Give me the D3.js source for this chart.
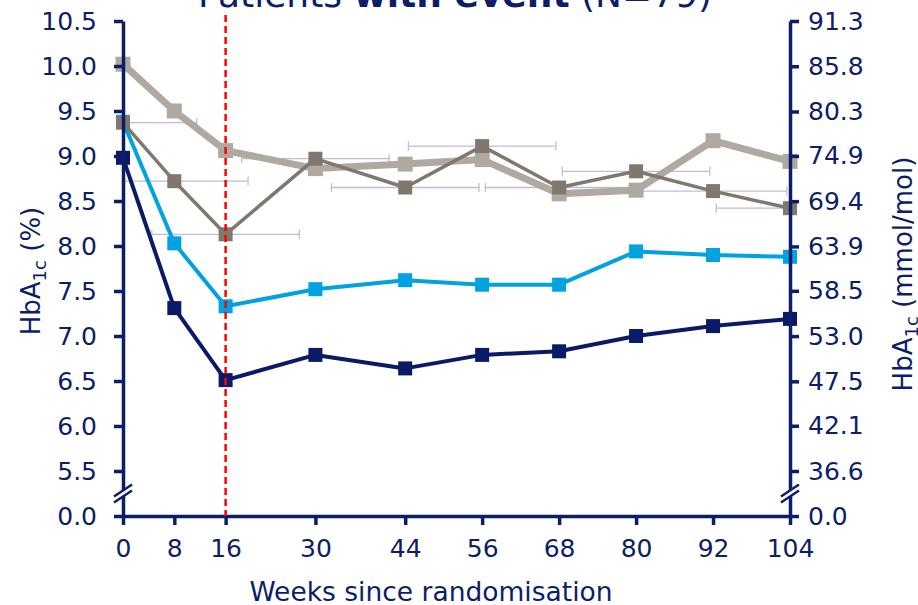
<!DOCTYPE html>
<html>
<head>
<meta charset="utf-8">
<script src="https://cdn.jsdelivr.net/npm/d3@7"></script>
<style>
  body { margin: 0; background: #fff; }
  svg text { font-family: "DejaVu Sans", Verdana, sans-serif; fill: #0c1e68; }
</style>
</head>
<body>
<div id="graph"></div>
<script>
// weeks since randomisation (x)
const weeks = [0, 8, 16, 30, 44, 56, 68, 80, 92, 104];
// HbA1c (%) per series
const navyValues      = [8.98, 7.31, 6.51, 6.79, 6.64, 6.79, 6.83, 7.00, 7.11, 7.19];
const blueValues      = [9.38, 8.03, 7.33, 7.52, 7.62, 7.57, 7.57, 7.94, 7.90, 7.88];
const darkGreyValues  = [9.37, 8.72, 8.13, 8.97, 8.65, 9.11, 8.65, 8.83, 8.61, 8.42];
const lightGreyValues = [10.02, 9.50, 9.06, 8.86, 8.91, 8.96, 8.58, 8.62, 9.17, 8.94];
// horizontal spread (weeks) drawn around the dark grey points
const darkGreyWeekErr = [11.5, 11.5, 11.5, 11.5, 11.5, 11.5, 11.5, 11.5, 11.5, 11.5];
// tick labels
const xTicks = [0, 8, 16, 30, 44, 56, 68, 80, 92, 104];
const leftTicks = [0, 5.5, 6.0, 6.5, 7.0, 7.5, 8.0, 8.5, 9.0, 9.5, 10.0, 10.5];
const rightTicks = [0, 36.6, 42.1, 47.5, 53.0, 58.5, 63.9, 69.4, 74.9, 80.3, 85.8, 91.3];
const cutoffWeek = 16;

const width = 918, height = 605;
const navy = "#0c1e68";

const svg = d3.select("#graph").append("svg")
              .attr("width", width).attr("height", height);

const x = d3.scaleLinear().domain([0, 104]).range([123, 790]);
// broken axis: 0 .. 5.5 squeezed into one tick gap
const y = d3.scaleLinear().domain([0, 5.5, 10.5]).range([516, 471, 21]);
const yRight = d3.scaleLinear().domain([0, 36.6, 91.3]).range([516, 471, 21]);

// title (cut off at the top, as in the source slide)
const title = svg.append("text")
                 .attr("x", 455).attr("y", 7)
                 .attr("text-anchor", "middle")
                 .attr("font-size", 36);
title.append("tspan").text("Patients ");
title.append("tspan").attr("font-weight", "bold").text("with event");
title.append("tspan").text(" (N=79)");

// error bars, clipped to the plot area
svg.append("clipPath").attr("id", "plotClip")
   .append("rect").attr("x", x(0)).attr("y", 0)
   .attr("width", x(104) - x(0)).attr("height", height);

const errG = svg.append("g").attr("clip-path", "url(#plotClip)")
                .attr("stroke", "#b9bfd8").attr("stroke-width", 1.3);
weeks.forEach((w, i) => {
  const yy = y(darkGreyValues[i]);
  const lo = w - darkGreyWeekErr[i], hi = w + darkGreyWeekErr[i];
  errG.append("line").attr("x1", x(lo)).attr("x2", x(hi)).attr("y1", yy).attr("y2", yy);
  [lo, hi].forEach(e => {
    errG.append("line").attr("x1", x(e)).attr("x2", x(e))
        .attr("y1", yy - 4.5).attr("y2", yy + 4.5);
  });
});

// series
const series = [
  { name: "lightGrey", values: lightGreyValues, color: "#b0a9a2", lineWidth: 7, size: 15 },
  { name: "blue",      values: blueValues,      color: "#00a3df", lineWidth: 4, size: 14 },
  { name: "navy",      values: navyValues,      color: "#0a1a66", lineWidth: 4, size: 14 },
  { name: "darkGrey",  values: darkGreyValues,  color: "#80776f", lineWidth: 3.5, size: 14 }
];

const line = d3.line().x(d => x(d.week)).y(d => y(d.value));

series.forEach(s => {
  const pts = weeks.map((w, i) => ({ week: w, value: s.values[i] }));
  const g = svg.append("g");
  g.append("path").datum(pts)
   .attr("fill", "none")
   .attr("stroke", s.color)
   .attr("stroke-width", s.lineWidth)
   .attr("stroke-linejoin", "round")
   .attr("d", line);
  g.selectAll("rect").data(pts).join("rect")
   .attr("x", d => x(d.week) - s.size / 2)
   .attr("y", d => y(d.value) - s.size / 2)
   .attr("width", s.size).attr("height", s.size)
   .attr("fill", s.color);
});

// axes
const bottomAxis = svg.append("g").attr("transform", `translate(0,${y(0)})`)
  .call(d3.axisBottom(x).tickValues(xTicks).tickSize(9).tickSizeOuter(0).tickPadding(14));
const leftAxis = svg.append("g").attr("transform", `translate(${x(0)},0)`)
  .call(d3.axisLeft(y).tickValues(leftTicks).tickSize(9).tickSizeOuter(0).tickPadding(17)
          .tickFormat(d3.format(".1f")));
const rightAxis = svg.append("g").attr("transform", `translate(${x(104)},0)`)
  .call(d3.axisRight(yRight).tickValues(rightTicks).tickSize(9).tickSizeOuter(0).tickPadding(9)
          .tickFormat(d3.format(".1f")));

[bottomAxis, leftAxis, rightAxis].forEach(a => {
  a.select(".domain").attr("stroke", navy).attr("stroke-width", 3.5);
  a.selectAll(".tick line").attr("stroke", navy).attr("stroke-width", 3.5);
  a.selectAll(".tick text").attr("font-size", 25).attr("fill", navy)
   .style("font-family", '"DejaVu Sans", Verdana, sans-serif');
});
bottomAxis.raise();

// axis break marks
const breakY = (y(0) + y(5.5)) / 2;
[x(0), x(104)].forEach(ax => {
  const b = svg.append("g").attr("transform", `translate(${ax},${breakY})`);
  b.append("line").attr("x1", -9).attr("y1", 6).attr("x2", 9).attr("y2", -6)
   .attr("stroke", "#fff").attr("stroke-width", 6);
  [-3, 3].forEach(off => {
    b.append("line").attr("x1", -9).attr("y1", 6 + off).attr("x2", 9).attr("y2", -6 + off)
     .attr("stroke", navy).attr("stroke-width", 2.5);
  });
});

// cut-off at week 16
svg.append("line")
   .attr("x1", x(cutoffWeek)).attr("x2", x(cutoffWeek))
   .attr("y1", y(10.5) - 6).attr("y2", y(0))
   .attr("stroke", "#ff0000").attr("stroke-width", 2.5)
   .attr("stroke-dasharray", "7,4");

// axis titles
svg.append("text")
   .attr("x", 431).attr("y", 601)
   .attr("text-anchor", "middle").attr("font-size", 26.5)
   .text("Weeks since randomisation");

function hbaLabel(tx, ty, unit) {
  const t = svg.append("text")
               .attr("transform", `translate(${tx},${ty}) rotate(-90)`)
               .attr("text-anchor", "middle").attr("font-size", 26);
  t.append("tspan").text("HbA");
  t.append("tspan").attr("font-size", 18).attr("dy", 6).text("1c");
  t.append("tspan").attr("dy", -6).text(` (${unit})`);
}
hbaLabel(40, 271, "%");
hbaLabel(912, 274, "mmol/mol");
</script>
</body>
</html>
